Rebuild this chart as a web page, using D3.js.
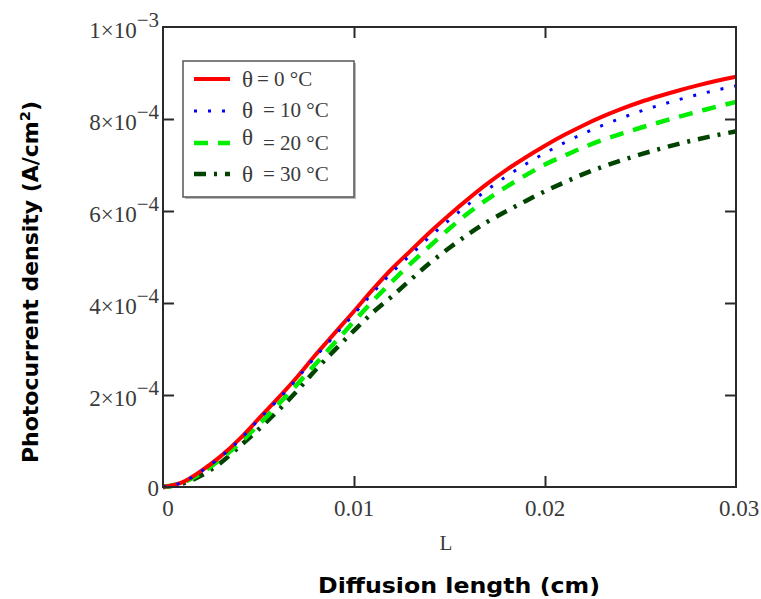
<!DOCTYPE html>
<html><head><meta charset="utf-8">
<script src="https://cdn.jsdelivr.net/npm/d3@7"></script>
<style>body{margin:0;background:#fff}svg{display:block}</style>
</head><body>
<svg id="c" width="761" height="599"></svg>
<script>
const L = [0,0.001,0.002,0.003,0.004,0.005,0.006,0.007,0.008,0.009,0.010,0.011,0.012,0.013,0.014,0.015,0.016,0.017,0.018,0.019,0.020,0.021,0.022,0.023,0.024,0.025,0.026,0.027,0.028,0.029,0.030];
const J0  = [0,0.10e-4,0.35e-4,0.66e-4,1.04e-4,1.48e-4,1.92e-4,2.38e-4,2.88e-4,3.35e-4,3.82e-4,4.30e-4,4.75e-4,5.15e-4,5.55e-4,5.92e-4,6.27e-4,6.60e-4,6.90e-4,7.17e-4,7.42e-4,7.65e-4,7.86e-4,8.05e-4,8.22e-4,8.37e-4,8.50e-4,8.62e-4,8.73e-4,8.83e-4,8.92e-4];
const J10 = [0,0.10e-4,0.34e-4,0.65e-4,1.02e-4,1.46e-4,1.89e-4,2.35e-4,2.84e-4,3.30e-4,3.76e-4,4.23e-4,4.67e-4,5.06e-4,5.45e-4,5.81e-4,6.15e-4,6.47e-4,6.76e-4,7.02e-4,7.26e-4,7.48e-4,7.68e-4,7.86e-4,8.02e-4,8.17e-4,8.30e-4,8.42e-4,8.53e-4,8.63e-4,8.72e-4];
const J20 = [0,0.09e-4,0.30e-4,0.60e-4,0.95e-4,1.35e-4,1.78e-4,2.22e-4,2.68e-4,3.14e-4,3.60e-4,4.05e-4,4.47e-4,4.87e-4,5.25e-4,5.62e-4,5.96e-4,6.26e-4,6.53e-4,6.78e-4,7.01e-4,7.20e-4,7.38e-4,7.54e-4,7.68e-4,7.81e-4,7.93e-4,8.05e-4,8.16e-4,8.27e-4,8.37e-4];
const J30 = [0,0.07e-4,0.25e-4,0.52e-4,0.88e-4,1.25e-4,1.65e-4,2.08e-4,2.55e-4,2.98e-4,3.40e-4,3.80e-4,4.15e-4,4.52e-4,4.88e-4,5.20e-4,5.50e-4,5.77e-4,6.00e-4,6.22e-4,6.43e-4,6.62e-4,6.80e-4,6.96e-4,7.10e-4,7.23e-4,7.35e-4,7.46e-4,7.56e-4,7.65e-4,7.73e-4];
const seriesNames = ["θ = 0 °C","θ  = 10 °C","θ  = 20 °C","θ  = 30 °C"];
const xTicks = [0,0.01,0.02,0.03];
const xTickLabels = ["0","0.01","0.02","0.03"];
const yTicks = [0,2e-4,4e-4,6e-4,8e-4,1e-3];
const yTickMant = ["0","2×10","4×10","6×10","8×10","1×10"];
const yTickExp = ["","−4","−4","−4","−4","−3"];

const svg = d3.select("#c");
const m = {l:163, t:27, r:736, b:487};
const x = d3.scaleLinear().domain([0,0.03]).range([m.l,m.r]);
const y = d3.scaleLinear().domain([0,1e-3]).range([m.b,m.t]);
const serif = "'Liberation Serif','Times New Roman',serif";
const sans = "'DejaVu Sans',Verdana,sans-serif";
const tickCol = "#2a2a2a";
const txtCol = "#3a3a3a";

const styles = [
  {c:"#ff0000", w:4, d:null},
  {c:"#0000ff", w:3, d:"3 11"},
  {c:"#00ee00", w:4.5, d:"14 10"},
  {c:"#004400", w:4.5, d:"12 8 3 8"}
];
const data = [J0,J10,J20,J30];

const gLines = svg.append("g");
const line = d3.line().x((d,i)=>x(L[i])).y(d=>y(d)).curve(d3.curveMonotoneX);
[3,2,0,1].forEach(k=>{
  gLines.append("path").datum(data[k]).attr("d",line)
    .attr("fill","none").attr("stroke",styles[k].c).attr("stroke-width",styles[k].w)
    .attr("stroke-dasharray",styles[k].d);
});

// axes
const gx = svg.append("g").attr("transform",`translate(0,${m.b})`)
  .call(d3.axisBottom(x).tickValues(xTicks.slice(1,3)).tickSize(-11).tickFormat(""));
const gxt = svg.append("g").attr("transform",`translate(0,${m.t})`)
  .call(d3.axisTop(x).tickValues(xTicks.slice(1,3)).tickSize(-11).tickFormat(""));
const gy = svg.append("g").attr("transform",`translate(${m.l},0)`)
  .call(d3.axisLeft(y).tickValues(yTicks.slice(1,5)).tickSize(-11).tickFormat(""));
const gyr = svg.append("g").attr("transform",`translate(${m.r},0)`)
  .call(d3.axisRight(y).tickValues(yTicks.slice(1,5)).tickSize(-11).tickFormat(""));
[gx,gxt,gy,gyr].forEach(g=>{
  g.select(".domain").remove();
  g.selectAll(".tick line").attr("stroke",tickCol).attr("stroke-width",2);
});
svg.append("rect").attr("x",m.l).attr("y",m.t).attr("width",m.r-m.l).attr("height",m.b-m.t)
  .attr("fill","none").attr("stroke",tickCol).attr("stroke-width",2);

// x tick labels
svg.append("g").selectAll("text").data(xTicks).join("text")
  .attr("x",(d,i)=>x(d)+(i===0?5:(i===3?3:0))).attr("y",m.b+29)
  .attr("text-anchor","middle").attr("font-family",serif).attr("font-size",23).attr("fill",txtCol)
  .text((d,i)=>xTickLabels[i]);
// y tick labels
const yl = svg.append("g").selectAll("text").data(yTicks).join("text")
  .attr("x",m.l-4).attr("y",d=>y(d)+(d===0?9:11))
  .attr("text-anchor","end").attr("font-family",serif).attr("font-size",23).attr("fill",txtCol);
yl.append("tspan").text((d,i)=>yTickMant[i]);
yl.append("tspan").attr("dy",-11).attr("font-size",21).text((d,i)=>yTickExp[i]);

// axis titles
svg.append("text").attr("x",446).attr("y",550).attr("text-anchor","middle")
  .attr("font-family",serif).attr("font-size",21).attr("fill",txtCol).text("L");
svg.append("text").attr("x",459).attr("y",593).attr("text-anchor","middle")
  .attr("font-family",sans).attr("font-weight","bold").attr("font-size",21).attr("fill","#000")
  .attr("textLength",282).attr("lengthAdjust","spacingAndGlyphs")
  .text("Diffusion length (cm)");
const yt = svg.append("text").attr("transform","translate(38,282) rotate(-90)").attr("text-anchor","middle")
  .attr("font-family",sans).attr("font-weight","bold").attr("font-size",21).attr("fill","#000")
  .attr("textLength",362).attr("lengthAdjust","spacingAndGlyphs");
yt.append("tspan").text("Photocurrent density (A/cm");
yt.append("tspan").attr("dy",-8).attr("font-size",14).text("2");
yt.append("tspan").attr("dy",8).text(")");

// legend
const lg = svg.append("g");
lg.append("rect").attr("x",185).attr("y",63).attr("width",171).attr("height",136).attr("fill","#bbb");
lg.append("rect").attr("x",183).attr("y",61).attr("width",171).attr("height",136)
  .attr("fill","#fff").attr("stroke","#555").attr("stroke-width",1.5);
const ly = [79,111,143,174];
const ty = [86,117,150,181];
seriesNames.forEach((n,k)=>{
  lg.append("line").attr("x1",194).attr("x2",230).attr("y1",ly[k]).attr("y2",ly[k])
    .attr("stroke",styles[k].c).attr("stroke-width",styles[k].w).attr("stroke-dasharray",styles[k].d);
  const t = lg.append("text").attr("x",242).attr("y",ty[k]).attr("font-family",serif)
    .attr("font-size",21).attr("fill",txtCol);
  const parts = n.split(" = ");
  t.append("tspan").attr("font-size",23).attr("dy",k===2?-5:1).text(parts[0].trim());
  t.append("tspan").attr("dy",k===2?5:-1).attr("dx",k===0?4:10).text("= "+parts[1]);
});
</script>
</body></html>
